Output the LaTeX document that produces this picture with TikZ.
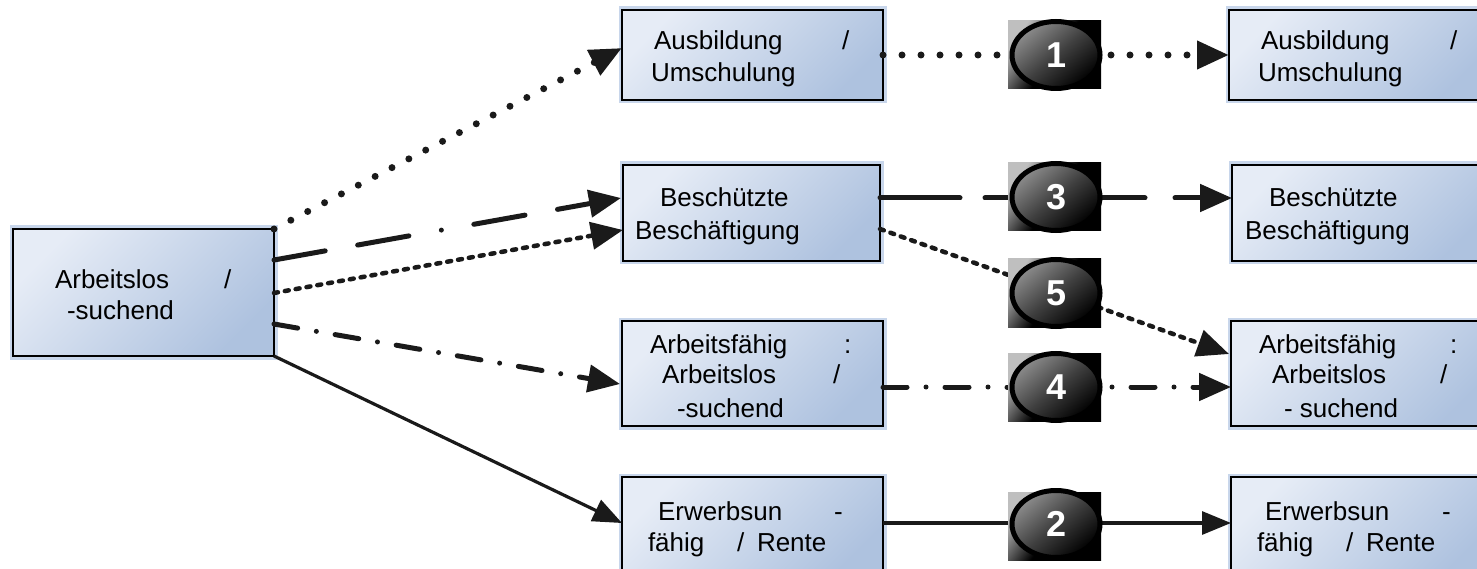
\documentclass[tikz,border=0pt]{standalone}
\usepackage{fontspec}
\setmainfont{Liberation Sans}
\usetikzlibrary{arrows.meta,calc,shapes.geometric}

\definecolor{boxlight}{RGB}{230,236,246}
\definecolor{boxdark}{RGB}{174,194,223}
\definecolor{boxhalo}{RGB}{200,214,235}
\definecolor{tipcol}{RGB}{26,26,26}

\tikzset{
  box/.style={rectangle, draw=black, line width=1.2pt, inner sep=0pt, outer sep=0pt,
    preaction={draw=boxhalo, line width=7pt},
    top color=boxlight, bottom color=boxdark, shading angle=45},
  lbl/.style={anchor=base west, inner sep=0pt, outer sep=0pt,
    font=\fontsize{26}{30}\selectfont},
  badgesq/.style={rectangle, inner sep=0pt, minimum width=93pt, minimum height=68pt,
    top color=black!25, bottom color=black, middle color=black, shading angle=55},
  badgeel/.style={ellipse, draw=black, line width=5pt, inner sep=0pt,
    minimum width=88pt, minimum height=67pt,
    top color=black!45, bottom color=black, middle color=black!75, shading angle=40,
    text=white, font=\bfseries\fontsize{36}{36}\selectfont},
  bigtip/.style={-{Triangle[length=32pt,width=27pt]}, tipcol},
  smalltip/.style={-{Triangle[length=29pt,width=23pt]}, tipcol},
  bigdots/.style={line width=7pt, line cap=round, dash pattern=on 0pt off 19pt, bigtip},
  finedots/.style={line width=4.5pt, line cap=round, dash pattern=on 4pt off 7pt, bigtip},
  dashdashdot/.style={line width=5pt, line cap=round,
    dash pattern=on 52pt off 33pt on 52pt off 33pt on 0pt off 33pt, bigtip},
  longdash/.style={line width=5pt, line cap=round,
    dash pattern=on 80pt off 25pt on 160pt off 30pt, bigtip},
  dashdot/.style={line width=5pt, line cap=round, dash pattern=on 24pt off 19pt on 0pt off 19pt, bigtip},
  solidline/.style={line width=3.2pt, smalltip},
}

\begin{document}
\begin{tikzpicture}[x=1pt,y=-1pt]
\useasboundingbox (0,0) rectangle (1477,569);

% boxes
\node[box, minimum width=261pt, minimum height=127pt] (L)  at (143.5,292.5) {};
\node[box, minimum width=261pt, minimum height=90pt]  (A1) at (752.5,55) {};
\node[box, minimum width=257pt, minimum height=96pt]  (B1) at (751.5,213) {};
\node[box, minimum width=261pt, minimum height=105pt] (F1) at (752.5,373.5) {};
\node[box, minimum width=261pt, minimum height=103pt] (E1) at (752.5,528.5) {};
\node[box, minimum width=261pt, minimum height=90pt]  (A2) at (1359.5,55) {};
\node[box, minimum width=261pt, minimum height=96pt]  (B2) at (1362.5,213) {};
\node[box, minimum width=261pt, minimum height=105pt] (F2) at (1361.5,373.5) {};
\node[box, minimum width=261pt, minimum height=103pt] (E2) at (1361.5,528.5) {};

% box texts
\node[lbl] (L-1) at (55,288) {Arbeitslos};
\node[lbl] (L-2) at (224,288) {/};
\node[lbl] (L-3) at (67,319) {-suchend};

\node[lbl] (A1-1) at (654,50) {Ausbildung};
\node[lbl] (A1-2) at (842,50) {/};
\node[lbl] (A1-3) at (651,82) {Umschulung};
\node[lbl] (A2-1) at (1261,50) {Ausbildung};
\node[lbl] (A2-2) at (1450,50) {/};
\node[lbl] (A2-3) at (1258,82) {Umschulung};

\node[lbl] (B1-1) at (660,207) {Beschützte};
\node[lbl] (B1-2) at (635,240) {Beschäftigung};
\node[lbl] (B2-1) at (1269,207) {Beschützte};
\node[lbl] (B2-2) at (1245,240) {Beschäftigung};

\node[lbl] (F1-1) at (650,353) {Arbeitsfähig};
\node[lbl] (F1-2) at (844,353) {:};
\node[lbl] (F1-3) at (662,383) {Arbeitslos};
\node[lbl] (F1-4) at (833,383) {/};
\node[lbl] (F1-5) at (677,417) {-suchend};
\node[lbl] (F2-1) at (1259,353) {Arbeitsfähig};
\node[lbl] (F2-2) at (1450,353) {:};
\node[lbl] (F2-3) at (1272,383) {Arbeitslos};
\node[lbl] (F2-4) at (1440,383) {/};
\node[lbl] (F2-5) at (1284,417) {- suchend};

\node[lbl] (E1-1) at (658,520) {Erwerbsun};
\node[lbl] (E1-2) at (834,520) {-};
\node[lbl] (E1-3) at (648,551) {fähig};
\node[lbl] (E1-4) at (737,551) {/};
\node[lbl] (E1-5) at (757,551) {Rente};
\node[lbl] (E2-1) at (1265,520) {Erwerbsun};
\node[lbl] (E2-2) at (1442,520) {-};
\node[lbl] (E2-3) at (1257,551) {fähig};
\node[lbl] (E2-4) at (1346,551) {/};
\node[lbl] (E2-5) at (1366,551) {Rente};

% connectors from the left box
\draw[bigdots] (L.north east) -- ($(A1.west)+(0,-7)$);
\draw[dashdashdot] ($(L.east)+(0,-32.5)$) -- ($(B1.west)+(-2,-15)$);
\draw[finedots] ($(L.east)+(0,0.5)$) -- ($(B1.west)+(0,17)$);
\draw[dashdot] ($(L.east)+(0,31.5)$) -- ($(F1.west)+(-2,10.5)$);
\draw[solidline] (L.south east) -- ($(E1.west)+(0,-5.5)$);

% connectors to the right column
\draw[bigdots] (A1.east) -- (A2.west);
\draw[longdash] ($(B1.east)+(0,-15)$) -- ($(B2.west)+(0,-15)$);
\draw[finedots] ($(B1.east)+(0,16)$) -- ($(F2.west)+(-2,-19.5)$);
\draw[dashdot] ($(F1.east)+(0,13.5)$) -- ($(F2.west)+(0,13.5)$);
\draw[solidline] ($(E1.east)+(0,-5.5)$) -- ($(E2.west)+(0,-5.5)$);

% numbered badges
\node[badgesq] (s1) at (1054.5,55) {};
\node[badgeel] (n1) at (1056,55) {1};
\node[badgesq] (s3) at (1054.5,197) {};
\node[badgeel] (n3) at (1056,197) {3};
\node[badgesq] (s5) at (1054.5,293) {};
\node[badgeel] (n5) at (1056,293) {5};
\node[badgesq] (s4) at (1054.5,387) {};
\node[badgeel] (n4) at (1056,387) {4};
\node[badgesq] (s2) at (1054.5,526) {};
\node[badgeel] (n2) at (1056,524) {2};
\end{tikzpicture}
\end{document}
